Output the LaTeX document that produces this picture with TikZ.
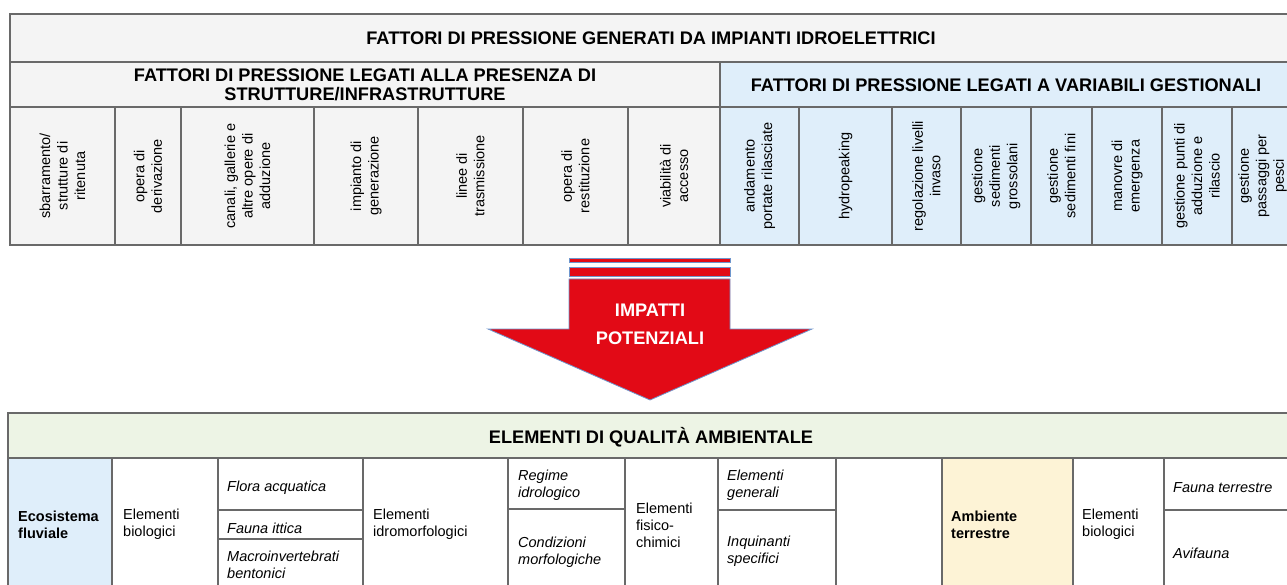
\documentclass[tikz,border=0pt]{standalone}
\usepackage{fontspec}
\setmainfont{Liberation Sans}
\begin{document}
\begin{tikzpicture}[x=1pt,y=-1pt,
  gridline/.style={draw=linegray,line width=1.2pt},
  hdrtext/.style={align=center,inner sep=0pt,font=\bfseries\fontsize{18.2}{19.5}\selectfont},
  coltext/.style={rotate=90,align=center,inner sep=0pt,font=\fontsize{14.5}{17.5}\selectfont},
  celltext/.style={anchor=west,align=left,inner sep=0pt,font=\fontsize{14.5}{17}\selectfont},
  celltextit/.style={celltext,font=\itshape\fontsize{14.5}{17}\selectfont},
  celltextbf/.style={celltext,font=\bfseries\fontsize{14.5}{17}\selectfont}]
\definecolor{linegray}{RGB}{105,105,105}
\definecolor{palegray}{RGB}{244,244,244}
\definecolor{paleblue}{RGB}{223,238,250}
\definecolor{palegreen}{RGB}{237,244,229}
\definecolor{paleyellow}{RGB}{253,243,214}
\definecolor{arrowred}{RGB}{226,10,22}
\definecolor{arrowedge}{RGB}{110,150,205}
\clip (0,0) rectangle (1287,585);
\fill [white] (0,0) rectangle (1287,585);
\fill [palegray] (10,14) rectangle (720,245);
\fill [palegray] (720,14) rectangle (1293,62);
\fill [paleblue] (720,62) rectangle (1293,245);
\draw [gridline] (10,14) rectangle (1293,245);
\draw [gridline] (10,62) -- (1293,62);
\draw [gridline] (10,107) -- (1293,107);
\draw [gridline] (720,62) -- (720,245);
\draw [gridline] (115,107) -- (115,245);
\draw [gridline] (181,107) -- (181,245);
\draw [gridline] (314,107) -- (314,245);
\draw [gridline] (418,107) -- (418,245);
\draw [gridline] (523,107) -- (523,245);
\draw [gridline] (628,107) -- (628,245);
\draw [gridline] (799,107) -- (799,245);
\draw [gridline] (892,107) -- (892,245);
\draw [gridline] (961,107) -- (961,245);
\draw [gridline] (1031,107) -- (1031,245);
\draw [gridline] (1092,107) -- (1092,245);
\draw [gridline] (1162,107) -- (1162,245);
\draw [gridline] (1232,107) -- (1232,245);
\node [hdrtext] (fpmain) at (651,38) {FATTORI DI PRESSIONE GENERATI DA IMPIANTI IDROELETTRICI};
\node [hdrtext] (fpstrut) at (365,85) {FATTORI DI PRESSIONE LEGATI ALLA PRESENZA DI\\STRUTTURE/INFRASTRUTTURE};
\node [hdrtext] (fpgest) at (1006,85) {FATTORI DI PRESSIONE LEGATI A VARIABILI GESTIONALI};
\node [coltext] (sbarr) at (62.5,176) {sbarramento/\\strutture di\\ritenuta};
\node [coltext] (deriv) at (148,176) {opera di\\derivazione};
\node [coltext] (canali) at (247.5,176) {canali, gallerie e\\altre opere di\\adduzione};
\node [coltext] (impgen) at (366,176) {impianto di\\generazione};
\node [coltext] (linee) at (470.5,176) {linee di\\trasmissione};
\node [coltext] (restit) at (575.5,176) {opera di\\restituzione};
\node [coltext] (viab) at (674,176) {viabilità di\\accesso};
\node [coltext] (portate) at (759.5,176) {andamento\\portate rilasciate};
\node [coltext] (hpeak) at (845.5,176) {hydropeaking};
\node [coltext] (invaso) at (926.5,176) {regolazione livelli\\invaso};
\node [coltext] (sedgros) at (996,176) {gestione\\sedimenti\\grossolani};
\node [coltext] (sedfini) at (1061.5,176) {gestione\\sedimenti fini};
\node [coltext] (manovre) at (1127,176) {manovre di\\emergenza};
\node [coltext] (punti) at (1197,176) {gestione punti di\\adduzione e\\rilascio};
\node [coltext] (passaggi) at (1262.5,176) {gestione\\passaggi per\\pesci};
\fill [arrowred] (569,258) rectangle (730,262);
\draw [arrowedge,line width=0.8pt] (569,258) rectangle (730,262);
\fill [arrowred] (569,267) rectangle (730,276);
\draw [arrowedge,line width=0.8pt] (569,267) rectangle (730,276);
\draw [arrowedge,line width=0.8pt,fill=arrowred] (569,279) -- (730,279) -- (730,329) -- (812,329) -- (650,400) -- (488,329) -- (569,329) -- cycle;
\node [align=center,inner sep=0pt,text=white,font=\bfseries\fontsize{18.2}{28}\selectfont] (impatti) at (650,324) {IMPATTI\\POTENZIALI};
\fill [palegreen] (8,413) rectangle (1293,458);
\fill [paleblue] (8,458) rectangle (112,600);
\fill [paleyellow] (942,458) rectangle (1073,600);
\draw [gridline] (8,600) -- (8,413) -- (1293,413) -- (1293,600);
\draw [gridline] (8,458) -- (1293,458);
\draw [gridline] (112,458) -- (112,600);
\draw [gridline] (218,458) -- (218,600);
\draw [gridline] (363,458) -- (363,600);
\draw [gridline] (508,458) -- (508,600);
\draw [gridline] (625,458) -- (625,600);
\draw [gridline] (718,458) -- (718,600);
\draw [gridline] (836,458) -- (836,600);
\draw [gridline] (942,458) -- (942,600);
\draw [gridline] (1073,458) -- (1073,600);
\draw [gridline] (1164,458) -- (1164,600);
\draw [gridline] (218,510) -- (363,510);
\draw [gridline] (218,539) -- (363,539);
\draw [gridline] (508,509) -- (625,509);
\draw [gridline] (718,510) -- (836,510);
\draw [gridline] (1164,510) -- (1293,510);
\node [hdrtext] (eqa) at (651,437) {ELEMENTI DI QUALITÀ AMBIENTALE};
\node [celltextbf] (ecofluv) at (18,524.5) {Ecosistema\\fluviale};
\node [celltext] (biofluv) at (123,524.5) {Elementi\\biologici};
\node [celltextit] (flora) at (227,488) {Flora acquatica};
\node [celltextit] (ittica) at (227,528) {Fauna ittica};
\node [celltextit] (macro) at (227,564.5) {Macroinvertebrati\\bentonici};
\node [celltext] (idromorf) at (373,524.5) {Elementi\\idromorfologici};
\node [celltextit] (regime) at (518,485) {Regime\\idrologico};
\node [celltextit] (condiz) at (518,552) {Condizioni\\morfologiche};
\node [celltext] (fisico) at (636,525) {Elementi\\fisico-\\chimici};
\node [celltextit] (generali) at (727,485.5) {Elementi\\generali};
\node [celltextit] (inquin) at (727,551.5) {Inquinanti\\specifici};
\node [celltextbf] (ambterr) at (951,524.5) {Ambiente\\terrestre};
\node [celltext] (bioterr) at (1082,524.5) {Elementi\\biologici};
\node [celltextit] (faunaterr) at (1173,488) {Fauna terrestre};
\node [celltextit] (avifauna) at (1173,553) {Avifauna};
\end{tikzpicture}
\end{document}
